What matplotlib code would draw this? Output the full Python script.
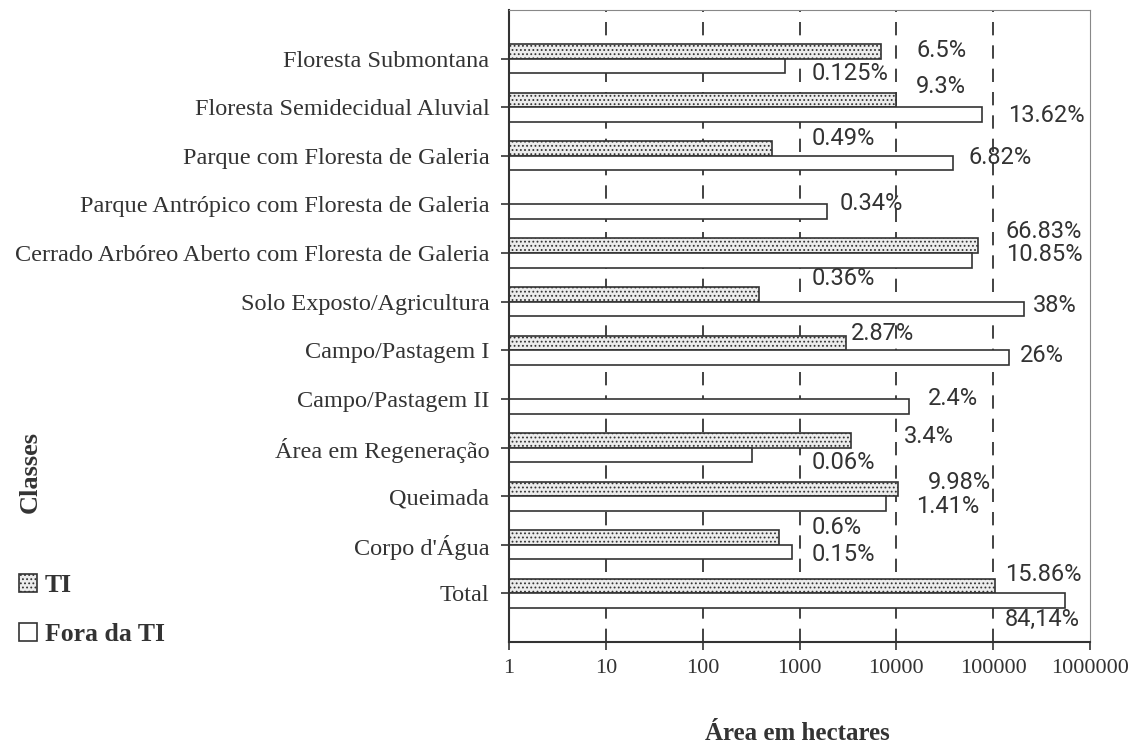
# Area per land-cover class, inside vs outside the TI (log scale)
import numpy as np
import matplotlib.pyplot as plt

categories = ["Floresta Submontana", "Floresta Semidecidual Aluvial",
              "Parque com Floresta de Galeria", "Parque Antrópico com Floresta de Galeria",
              "Cerrado Arbóreo Aberto com Floresta de Galeria", "Solo Exposto/Agricultura",
              "Campo/Pastagem I", "Campo/Pastagem II", "Área em Regeneração",
              "Queimada", "Corpo d'Água", "Total"]
ti_area = [6900, 9900, 515, np.nan, 70500, 378, 3000, np.nan, 3400, 10300, 610, 105500]
fora_area = [700, 76000, 38500, 1920, 60500, 210000, 146000, 13400, 325, 7800, 830, 557000]
ti_pct = ["6.5%", "9.3%", "0.49%", None, "66.83%", "0.36%", "2.87%", None,
          "3.4%", "9.98%", "0.6%", "15.86%"]
fora_pct = ["0.125%", "13.62%", "6.82%", "0.34%", "10.85%", "38%", "26%", "2.4%",
            "0.06%", "1.41%", "0.15%", "84,14%"]
xticks = [1, 10, 100, 1000, 10000, 100000, 1000000]

# where the percentage labels sit (log10 x, y in category units)
ti_lab_pos = [(4.21, 11.16), (4.20, 10.42), (3.13, 9.35), None, (5.13, 7.45), (3.12, 6.48),
              (3.53, 5.35), None, (4.08, 3.23), (4.33, 2.28), (3.12, 1.35), (5.12, 0.38)]
fora_lab_pos = [(3.13, 10.69), (5.15, 9.84), (4.74, 8.96), (3.41, 8.03), (5.13, 6.98),
                (5.41, 5.93), (5.28, 4.90), (4.33, 4.01), (3.12, 2.69), (4.20, 1.78),
                (3.13, 0.81), (5.12, -0.53)]

pct_font = "Roboto"
serif = "Liberation Serif"
txt = '#333333'

fig = plt.figure(figsize=(11.34, 7.46), dpi=100)
ax = fig.add_axes([0.4489, 0.1394, 0.5123, 0.8472])

n = len(categories)
y = np.arange(n)[::-1]
h = 0.3

plt.rcParams['hatch.color'] = '#555555'
plt.rcParams['hatch.linewidth'] = 0.8
ax.barh(y + h / 2, ti_area, height=h, left=1, color='#ececec', edgecolor='#333333',
        hatch='....', linewidth=1.2, label='TI')
ax.barh(y - h / 2, fora_area, height=h, left=1, color='white', edgecolor='#333333',
        linewidth=1.2, label='Fora da TI')

for i in range(n):
    if ti_pct[i] is not None:
        lx, ly = ti_lab_pos[i]
        ax.text(10 ** lx, ly, ti_pct[i], fontsize=17, family=pct_font,
                color=txt, va='center', ha='left')
    lx, ly = fora_lab_pos[i]
    ax.text(10 ** lx, ly, fora_pct[i], fontsize=17, family=pct_font,
            color=txt, va='center', ha='left')

ax.set_xscale('log')
ax.set_xlim(1, 1000000)
ax.set_ylim(-1, 12)
ax.set_xticks(xticks)
ax.set_xticklabels([str(t) for t in xticks], family=serif, fontsize=16, color=txt)
ax.minorticks_off()
ax.set_yticks(y)
ax.set_yticklabels(categories, family=serif, fontsize=17.5, color=txt)
ax.tick_params(axis='both', direction='out', length=6, width=1.2, color='#333333')
ax.tick_params(axis='x', pad=6)
ax.tick_params(axis='y', pad=8)

for t in xticks[1:-1]:
    ax.axvline(t, color='#222222', linewidth=1.2, linestyle=(0, (8, 6)), zorder=0)

ax.spines['left'].set_linewidth(1.5)
ax.spines['bottom'].set_linewidth(1.5)
ax.spines['left'].set_color('#333333')
ax.spines['bottom'].set_color('#333333')
ax.spines['top'].set_color('#888888')
ax.spines['right'].set_color('#888888')

fig.text(797 / 1134, 1 - 734 / 746, "Área em hectares", family=serif, fontweight='bold',
         fontsize=18, color=txt, ha='center', va='center')
fig.text(30 / 1134, 1 - 472 / 746, "Classes", family=serif, fontweight='bold',
         fontsize=19, color=txt, rotation=90, ha='center', va='center')

handles, labels = ax.get_legend_handles_labels()
fig.legend(handles, labels, loc='upper left', bbox_to_anchor=(6 / 1134, 1 - 561 / 746),
           frameon=False, prop={'family': serif, 'weight': 'bold', 'size': 18.5},
           handlelength=0.7, handleheight=0.7, handletextpad=0.3, labelspacing=1.0,
           borderpad=0, labelcolor=txt)

fig.savefig("out.png", dpi=100)
